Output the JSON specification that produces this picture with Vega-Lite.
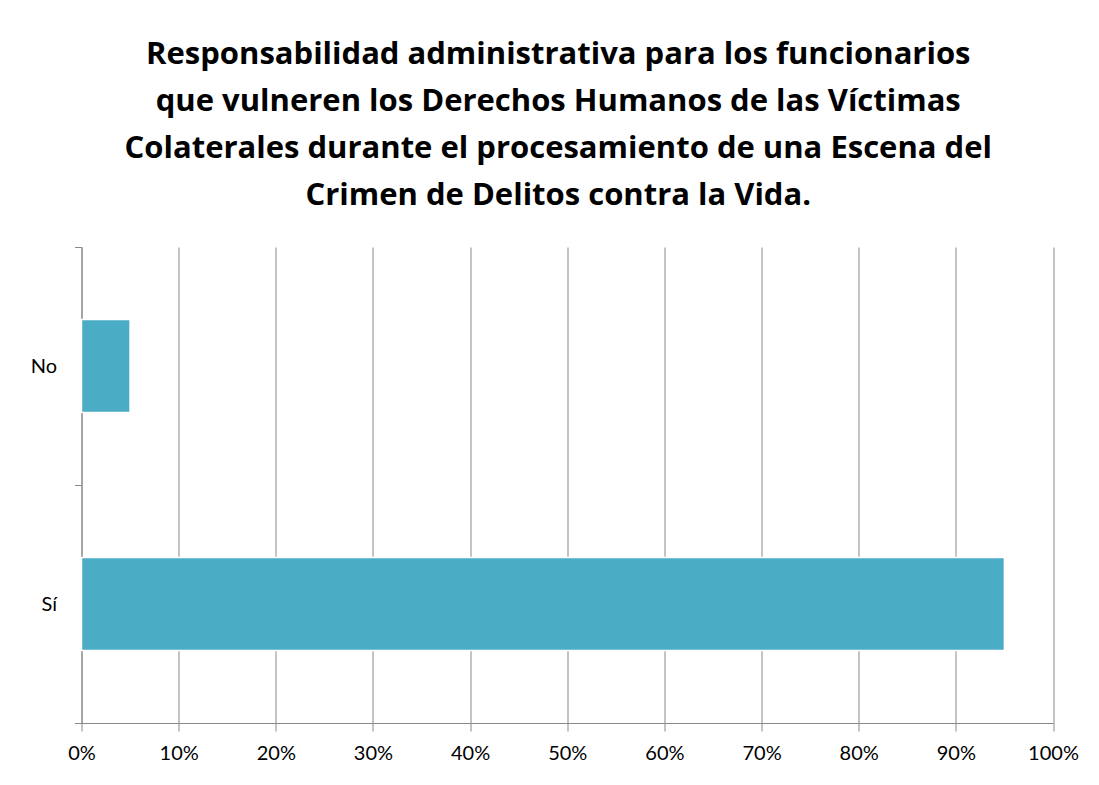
{
  "$schema": "https://vega.github.io/schema/vega-lite/v6.json",
  "autosize": {"type": "none"},
  "width": 971.5,
  "height": 476,
  "padding": {"left": 81.5, "top": 247, "right": 46, "bottom": 62},
  "background": "white",
  "title": {
    "text": [
      "Responsabilidad administrativa para los funcionarios",
      "que vulneren los Derechos Humanos de las Víctimas",
      "Colaterales durante el procesamiento de una Escena del",
      "Crimen de Delitos contra la Vida."
    ],
    "font": "Open Sans",
    "fontSize": 31,
    "fontWeight": "bold",
    "color": "#000000",
    "lineHeight": 47,
    "anchor": "middle",
    "frame": "group",
    "dx": -9,
    "offset": 25
  },
  "data": {
    "values": [
      {"respuesta": "No", "porcentaje": 0.05},
      {"respuesta": "Sí", "porcentaje": 0.95}
    ]
  },
  "mark": {"type": "bar", "color": "#4BACC6", "stroke": "white", "strokeWidth": 1.5, "height": {"band": 0.39}},
  "encoding": {
    "y": {
      "field": "respuesta",
      "type": "nominal",
      "sort": ["No", "Sí"],
      "title": null,
      "scale": {"paddingInner": 0, "paddingOuter": 0},
      "axis": {
        "tickBand": "extent",
        "tickSize": 7,
        "tickColor": "#888888",
        "domainColor": "#888888",
        "labelFont": "Lato",
        "labelFontSize": 20,
        "labelColor": "#000000",
        "labelPadding": 18,
        "grid": false
      }
    },
    "x": {
      "field": "porcentaje",
      "type": "quantitative",
      "title": null,
      "scale": {"domain": [0, 1], "nice": false},
      "axis": {
        "format": ".0%",
        "values": [0, 0.1, 0.2, 0.3, 0.4, 0.5, 0.6, 0.7, 0.8, 0.9, 1],
        "grid": true,
        "gridColor": "#888888",
        "gridOpacity": 1,
        "tickSize": 8,
        "tickColor": "#888888",
        "domainColor": "#888888",
        "labelFont": "Lato",
        "labelFontSize": 20,
        "labelColor": "#000000",
        "labelPadding": 12,
        "labelFlush": false
      }
    }
  },
  "config": {
    "view": {"stroke": null}
  }
}
